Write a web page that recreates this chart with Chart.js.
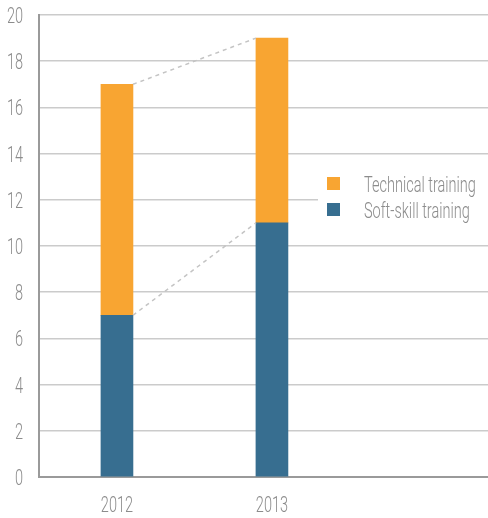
<!DOCTYPE html>
<html>
<head>
<meta charset="utf-8">
<script src="https://cdn.jsdelivr.net/npm/chart.js@4"></script>
<style>
  html, body { margin: 0; padding: 0; background: #fff; }
  #wrap { width: 488px; height: 518px; }
</style>
</head>
<body>
<div id="wrap"><canvas id="c" width="488" height="518"></canvas></div>
<script>
const years = ['2012', '2013'];
const softSkill = [7, 11];
const technical = [10, 8];
const yTicks = [0, 2, 4, 6, 8, 10, 12, 14, 16, 18, 20];

const blue = '#376e90';
const orange = '#f8a532';
const textGrey = '#8c8c8c';
// condensed look: regular face squeezed horizontally
const FONT = '300 22px Roboto, "Liberation Sans", sans-serif';
const SQUEEZE = 0.66;

function squeezedText(ctx, str, x, y, align) {
  ctx.save();
  ctx.font = FONT;
  ctx.fillStyle = textGrey;
  ctx.textBaseline = 'alphabetic';
  ctx.textAlign = align;
  ctx.translate(x, y);
  ctx.scale(SQUEEZE, 1);
  ctx.fillText(str, 0, 0);
  ctx.restore();
}

// tick labels, placed from the chart's own scales
const tickText = {
  id: 'tickText',
  afterDraw(chart) {
    const ctx = chart.ctx;
    const ys = chart.scales.y, xs = chart.scales.x;
    ys.ticks.forEach(function(t) {
      squeezedText(ctx, String(t.value), ys.right - 16, ys.getPixelForValue(t.value) + 8, 'right');
    });
    xs.ticks.forEach(function(t) {
      squeezedText(ctx, years[t.value], xs.getPixelForValue(t.value), xs.top + 35, 'center');
    });
  }
};

// dashed connectors between the tops of the stacked segments
const connectors = {
  id: 'connectors',
  afterDatasetsDraw(chart) {
    const ctx = chart.ctx;
    ctx.save();
    ctx.strokeStyle = '#c4c4c4';
    ctx.lineWidth = 1.5;
    ctx.setLineDash([4, 4]);
    chart.data.datasets.forEach(function(ds, i) {
      const bars = chart.getDatasetMeta(i).data;
      for (let k = 0; k < bars.length - 1; k++) {
        const a = bars[k], b = bars[k + 1];
        ctx.beginPath();
        ctx.moveTo(a.x + a.width / 2, a.y);
        ctx.lineTo(b.x - b.width / 2, b.y);
        ctx.stroke();
      }
    });
    ctx.restore();
  }
};

// legend floating inside the plot, on a white patch
const floatLegend = {
  id: 'floatLegend',
  beforeDatasetsDraw(chart) {
    const ctx = chart.ctx;
    ctx.save();
    ctx.fillStyle = '#fff';
    ctx.fillRect(318, 163, 170, 74);
    const items = chart.data.datasets.slice().reverse();
    items.forEach(function(ds, i) {
      const y = 177 + i * 26;
      ctx.fillStyle = ds.backgroundColor;
      ctx.fillRect(327, y, 13, 13);
      squeezedText(ctx, ds.label, 364, y + 15, 'left');
    });
    ctx.restore();
  }
};

new Chart(document.getElementById('c'), {
  type: 'bar',
  data: {
    datasets: [{
      label: 'Soft-skill training',
      backgroundColor: blue,
      data: softSkill.map((v, i) => ({ x: i, y: v }))
    }, {
      label: 'Technical training',
      backgroundColor: orange,
      data: technical.map((v, i) => ({ x: i, y: v }))
    }]
  },
  plugins: [connectors, floatLegend, tickText],
  options: {
    responsive: false,
    animation: false,
    barThickness: 32,
    layout: { padding: { top: 15, right: 0, left: 0, bottom: 0 } },
    plugins: {
      legend: { display: false },
      tooltip: { enabled: false }
    },
    scales: {
      x: {
        type: 'linear',
        stacked: true,
        offset: false,
        min: -0.503,
        max: 2.394,
        grid: { display: false, drawTicks: false },
        border: { color: '#9a9a9a', width: 2 },
        afterBuildTicks: function(scale) {
          scale.ticks = years.map((y, i) => ({ value: i }));
        },
        afterFit: function(scale) { scale.height = 41; },
        ticks: { display: false }
      },
      y: {
        stacked: true,
        min: 0,
        max: 20,
        afterBuildTicks: function(scale) {
          scale.ticks = yTicks.map(v => ({ value: v }));
        },
        afterFit: function(scale) { scale.width = 39; },
        grid: { color: '#cbcbcb', lineWidth: 1.5, drawTicks: false },
        border: { color: '#9a9a9a', width: 2 },
        ticks: { display: false }
      }
    }
  }
});
</script>
</body>
</html>
